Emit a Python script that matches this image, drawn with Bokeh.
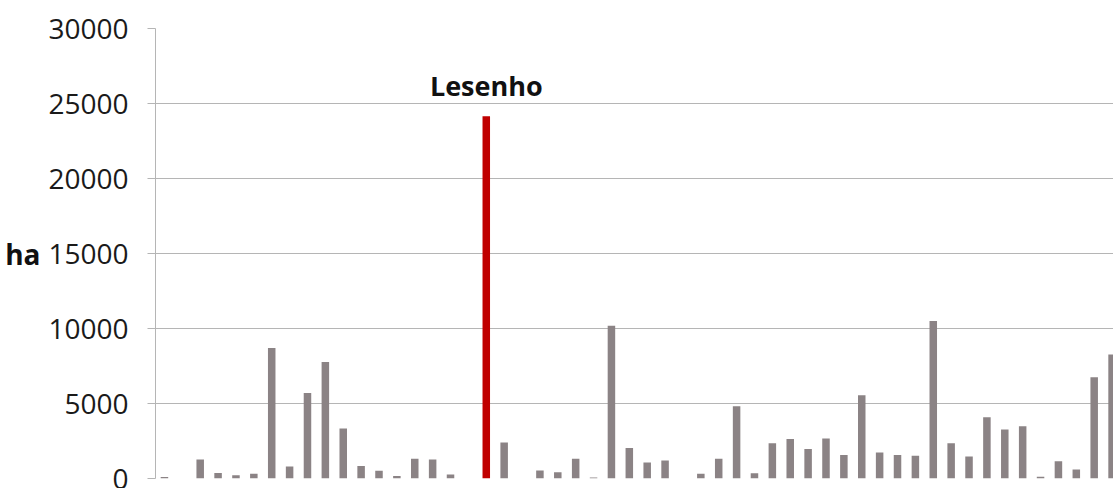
from bokeh.plotting import figure
from bokeh.models import ColumnDataSource, Range1d, Label, FixedTicker, NumeralTickFormatter
from bokeh.embed import file_html
from bokeh.resources import INLINE

# Data; slots 1, 17, 20, 29 are empty
areas = [100, 0, 1270, 370, 220, 310, 8700, 800, 5700, 7770,
         3330, 840, 510, 170, 1310, 1270, 270, 0, 24150, 2400,
         0, 530, 420, 1310, 60, 10180, 2040, 1070, 1200, 0,
         310, 1310, 4820, 350, 2350, 2640, 1970, 2670, 1570, 5550,
         1730, 1570, 1510, 10500, 2350, 1470, 4090, 3270, 3490, 110,
         1150, 600, 6750, 8270]
highlight_index = 18
highlight_name = "Lesenho"
y_ticks = [0, 5000, 10000, 15000, 20000, 25000, 30000]

GRAY = "#8b8385"
RED = "#c00000"

idx = list(range(len(areas)))
colors = [RED if i == highlight_index else GRAY for i in idx]
src = ColumnDataSource(dict(x=idx, top=areas, color=colors))

p = figure(width=1113, height=488, output_backend="svg", toolbar_location=None,
           x_range=Range1d(-0.5, 53.08), y_range=Range1d(0, 30000),
           min_border_left=155, min_border_right=0, min_border_top=28, min_border_bottom=10)
p.outline_line_color = None
p.background_fill_color = "white"

p.vbar(x="x", top="top", width=0.42, fill_color="color", line_color=None, source=src)

p.xaxis.visible = False
p.xgrid.visible = False

p.yaxis.ticker = FixedTicker(ticks=y_ticks)
p.yaxis.formatter = NumeralTickFormatter(format="0")
p.yaxis.major_label_text_font = "Open Sans"
p.yaxis.major_label_text_font_size = "28px"
p.yaxis.major_label_text_color = "#1a1a1a"
p.yaxis.major_label_standoff = 19
p.yaxis.major_tick_out = 8
p.yaxis.major_tick_in = 0
p.yaxis.minor_tick_line_color = None
p.yaxis.major_tick_line_color = "#b5b5b5"
p.yaxis.axis_line_color = "#b5b5b5"
p.yaxis.axis_label = "ha"
p.yaxis.axis_label_orientation = "horizontal"
p.yaxis.axis_label_text_font = "Open Sans"
p.yaxis.axis_label_text_font_style = "bold"
p.yaxis.axis_label_text_font_size = "28px"
p.yaxis.axis_label_text_color = "#111111"
p.yaxis.axis_label_standoff = 5

p.ygrid.grid_line_color = "#b5b5b5"
p.ygrid.grid_line_width = 1

lbl = Label(x=highlight_index, y=areas[highlight_index], text=highlight_name,
            x_offset=0, y_offset=31, text_align="center", text_baseline="alphabetic",
            text_font="Open Sans", text_font_style="bold", text_font_size="27px",
            text_color="#111111")
p.add_layout(lbl)

open("out.html", "w").write(file_html(p, INLINE))
